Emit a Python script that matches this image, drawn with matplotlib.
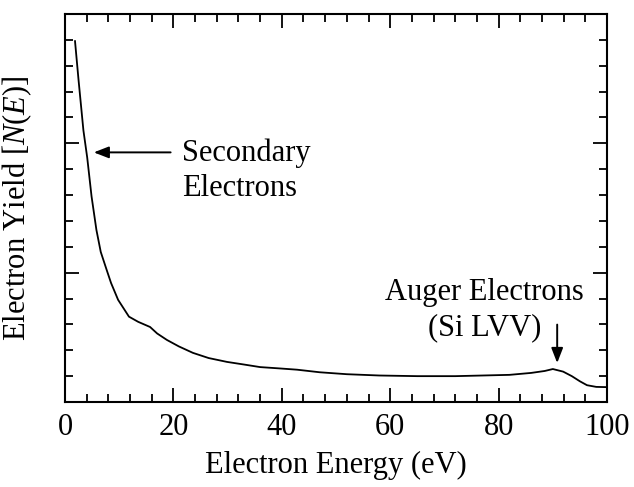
import matplotlib.pyplot as plt
from matplotlib.ticker import MultipleLocator

plt.rcParams['font.family'] = ['Liberation Serif', 'DejaVu Serif']
plt.rcParams['mathtext.fontset'] = 'custom'
plt.rcParams['mathtext.rm'] = 'Liberation Serif'
plt.rcParams['mathtext.it'] = 'Liberation Serif:italic'

# Electron energy distribution N(E) (arbitrary units)
energia = [1.85, 2.5, 3.4, 4.1, 4.9, 5.8, 6.6, 7.7, 8.5, 9.8, 11.8, 13.5, 15.7,
           17, 18.8, 21, 23.6, 26.5, 29.9, 33, 36, 39.5, 42.8, 47, 52, 58, 65,
           72, 77, 82, 86, 88.5, 90, 91.9, 93.5, 95, 96.3, 98, 100]
rendimento = [2.79, 2.49, 2.10, 1.89, 1.59, 1.33, 1.16, 1.02, 0.92, 0.79, 0.66,
              0.62, 0.58, 0.53, 0.48, 0.43, 0.38, 0.34, 0.31, 0.29, 0.27, 0.26,
              0.25, 0.23, 0.215, 0.205, 0.20, 0.20, 0.205, 0.21, 0.225, 0.24,
              0.255, 0.235, 0.20, 0.16, 0.13, 0.117, 0.115]

fig = plt.figure(figsize=(6.34, 4.87), dpi=100)
ax = fig.add_axes([0.1025, 0.1745, 0.855, 0.7968])

ax.plot(energia, rendimento, '-', color='black', lw=1.3)

ax.set_xlim(0, 100)
ax.set_ylim(0, 3)
ax.xaxis.set_major_locator(MultipleLocator(20))
ax.xaxis.set_minor_locator(MultipleLocator(4))
ax.yaxis.set_major_locator(MultipleLocator(1))
ax.yaxis.set_minor_locator(MultipleLocator(0.2))
ax.tick_params(which='both', direction='in', top=True, right=True,
               width=1.3, labelsize=22, pad=8)
ax.tick_params(which='major', length=10)
ax.tick_params(which='minor', length=5.5)
ax.tick_params(axis='y', labelleft=False)
for spine in ax.spines.values():
    spine.set_linewidth(1.5)

ax.set_xlabel('Electron Energy (eV)', fontsize=22, labelpad=6)
ax.set_ylabel(r'Electron Yield [$N$($E$)]', fontsize=22, labelpad=14)

# Anotações
seta = dict(arrowstyle='-|>,head_length=0.9,head_width=0.35',
            color='black', lw=1.4)
ax.annotate('', xy=(4.8, 1.93), xytext=(20.0, 1.93), arrowprops=seta)
ax.text(21.6, 1.79, 'Secondary\nElectrons', fontsize=22, ha='left',
        va='center', linespacing=1.28)

ax.annotate('', xy=(90.8, 0.28), xytext=(90.8, 0.62), arrowprops=seta)
ax.text(77.4, 0.71, 'Auger Electrons\n(Si LVV)', fontsize=22, ha='center',
        va='center', multialignment='center', linespacing=1.28)

fig.savefig('out.png', dpi=100)
